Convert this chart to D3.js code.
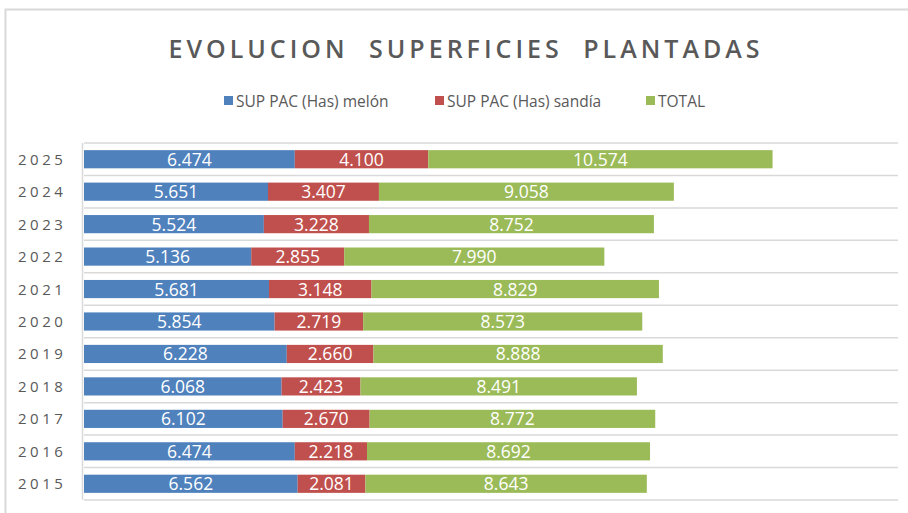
<!DOCTYPE html>
<html>
<head>
<meta charset="utf-8">
<title>Evolucion superficies plantadas</title>
<style>
  body { margin: 0; background: #fff; }
  .title { fill: #595959; font-size: 25px; font-weight: 600; letter-spacing: 4px; word-spacing: 10px; text-anchor: middle; }
  .legend text { fill: #595959; font-size: 15.5px; }
  .year { fill: #595959; font-size: 15px; letter-spacing: 3.5px; }
  .val { fill: #fff; font-size: 17.5px; text-anchor: middle; }
  .grid line { stroke: #d9d9d9; stroke-width: 1.5px; }
</style>
</head>
<body>
<div id="chart"></div>
<script src="https://cdn.jsdelivr.net/npm/d3@7"></script>
<script>
// data (years from top to bottom)
var years  = ["2025","2024","2023","2022","2021","2020","2019","2018","2017","2016","2015"];
var melon  = [6474, 5651, 5524, 5136, 5681, 5854, 6228, 6068, 6102, 6474, 6562];
var sandia = [4100, 3407, 3228, 2855, 3148, 2719, 2660, 2423, 2670, 2218, 2081];
var total  = [10574, 9058, 8752, 7990, 8829, 8573, 8888, 8491, 8772, 8692, 8643];
var seriesNames  = ["SUP PAC (Has) melón", "SUP PAC (Has) sandía", "TOTAL"];
var seriesColors = ["#4f81bd", "#c0504d", "#9bbb59"];

var width = 908, height = 513;
var fmt = d3.format(",d");
function fmtEs(v) { return fmt(v).replace(/,/g, "."); }

var svg = d3.select("#chart").append("svg")
  .attr("width", width).attr("height", height)
  .style("font-family", "'Open Sans', 'Noto Sans', sans-serif");

// outer chart frame
svg.append("path")
  .attr("d", "M5.5," + height + "V9.5H" + width)
  .attr("fill", "none").attr("stroke", "#d9d9d9").attr("stroke-width", 2);

svg.append("text").attr("class", "title")
  .attr("x", 466).attr("y", 58)
  .text("EVOLUCION SUPERFICIES PLANTADAS");

// legend
var legendX = [224, 435, 646];
var legend = svg.append("g").attr("class", "legend");
seriesNames.forEach(function(n, i) {
  legend.append("rect").attr("x", legendX[i]).attr("y", 96)
    .attr("width", 9).attr("height", 9).attr("fill", seriesColors[i]);
  legend.append("text").attr("x", legendX[i] + 12).attr("y", 107).text(n);
});

var x = d3.scaleLinear().domain([0, 25000]).range([84, 898]);
var y = d3.scaleBand().domain(years).range([143, 500]).paddingInner(0.44).paddingOuter(0.22);

// gridlines at band boundaries
var bounds = d3.range(years.length + 1).map(function(i) { return 143 + i * (357 / years.length); });
svg.append("g").attr("class", "grid")
  .selectAll("line").data(bounds).enter().append("line")
  .attr("x1", x(0)).attr("x2", x(25000))
  .attr("y1", function(d) { return d; }).attr("y2", function(d) { return d; });

// stacked rows
var rows = years.map(function(yr, i) {
  return { year: yr, values: [melon[i], sandia[i], total[i]] };
});
var stack = d3.stack().keys([0, 1, 2]).value(function(d, k) { return d.values[k]; });
var layers = stack(rows);

var g = svg.append("g").selectAll("g").data(layers).enter().append("g")
  .attr("fill", function(d, i) { return seriesColors[i]; });

g.selectAll("rect").data(function(d) { return d; }).enter().append("rect")
  .attr("x", function(d) { return x(d[0]); })
  .attr("width", function(d) { return x(d[1]) - x(d[0]); })
  .attr("y", function(d) { return y(d.data.year); })
  .attr("height", y.bandwidth());

g.selectAll("text").data(function(d) { return d; }).enter().append("text")
  .attr("class", "val")
  .attr("x", function(d) { return (x(d[0]) + x(d[1])) / 2; })
  .attr("y", function(d) { return y(d.data.year) + y.bandwidth() / 2 + 6.5; })
  .text(function(d) { return fmtEs(d[1] - d[0]); });

// vertical axis line
svg.append("line").attr("x1", 82.5).attr("x2", 82.5).attr("y1", 143).attr("y2", 500)
  .attr("stroke", "#d9d9d9").attr("stroke-width", 1.5);

// year labels
svg.append("g").selectAll("text").data(years).enter().append("text")
  .attr("class", "year")
  .attr("x", 18)
  .attr("y", function(d) { return y(d) + y.bandwidth() / 2 + 5.5; })
  .text(function(d) { return d; });
</script>
</body>
</html>
